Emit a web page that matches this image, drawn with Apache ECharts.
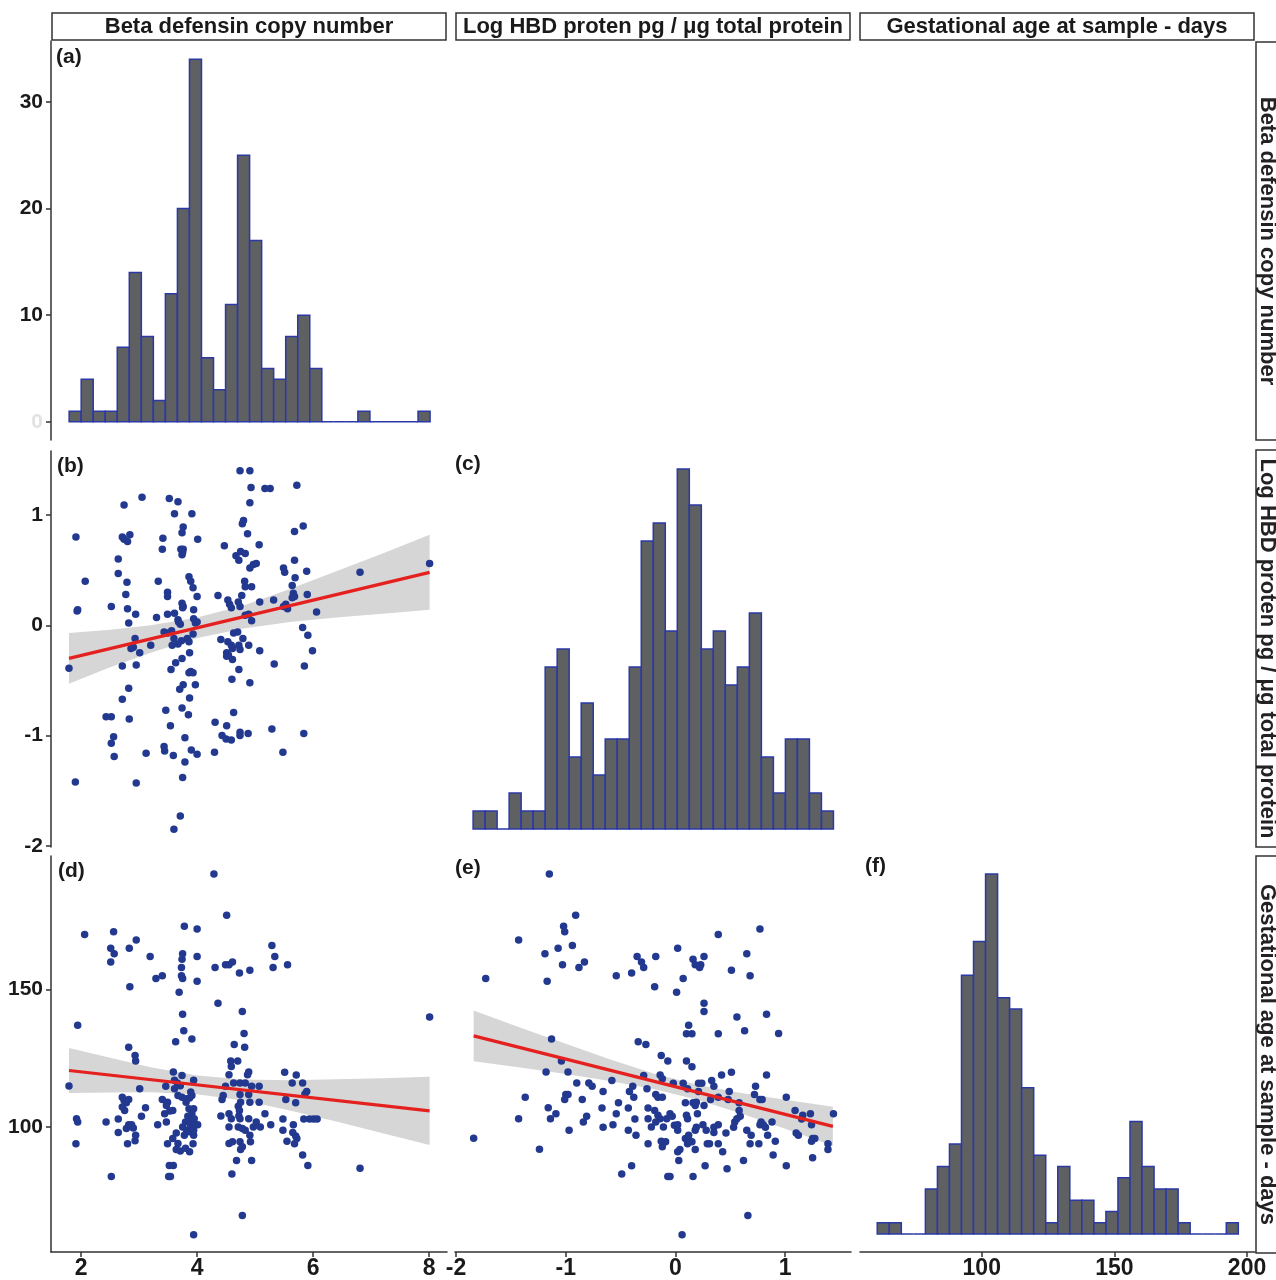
<!DOCTYPE html>
<html><head><meta charset="utf-8">
<script src="https://cdn.jsdelivr.net/npm/echarts@6/dist/echarts.min.js"></script>
<style>html,body{margin:0;padding:0;background:#fff}#c{width:1276px;height:1280px}</style>
</head><body><div id="c"></div><script>
// ---------- DATA ----------
// histogram (a): Beta defensin copy number, 30 bins
const histA_start = 1.793, histA_width = 0.2075;
const histA_counts = [1,4,1,1,7,14,8,2,12,20,34,6,3,11,25,17,5,4,8,10,5,0,0,0,1,0,0,0,0,1];
// histogram (c): Log HBD protein, 30 bins
const histC_start = -1.845, histC_width = 0.1095;
const histC_counts = [1,1,0,2,1,1,9,10,4,7,3,5,5,9,16,17,11,20,18,10,11,8,9,12,4,2,5,5,2,1];
// histogram (f): Gestational age, 30 bins
const histF_start = 60.6, histF_width = 4.537;
const histF_counts = [1,1,0,0,4,6,8,23,26,32,21,20,13,7,1,6,3,3,1,2,5,10,6,4,4,1,0,0,0,1];

// scatter (b): copy number vs log HBD
const ptsB = [[1.79,-0.39],[1.91,0.80],[2.07,0.40],[1.93,0.13],[1.94,0.14],[1.90,-1.42],
[2.74,1.09],[3.05,1.16],[2.71,0.80],[2.74,0.78],[2.80,0.76],[2.84,0.82],[2.64,0.60],[2.64,0.47],[2.79,0.39],[2.77,0.28],[2.52,0.17],[2.80,0.15],[2.94,0.10],[2.82,0.02],[2.93,-0.12],[2.90,-0.20],[2.86,-0.21],[3.01,-0.25],[3.20,-0.18],[2.71,-0.37],[2.95,-0.36],[2.82,-0.57],[2.71,-0.67],[2.43,-0.83],[2.52,-0.83],[2.83,-0.85],[2.56,-1.01],[2.52,-1.07],[2.57,-1.19],[3.12,-1.16],[2.95,-1.43],
[3.52,1.15],[3.67,1.12],[3.61,1.01],[3.91,1.01],[3.76,0.89],[3.74,0.84],[3.41,0.79],[4.01,0.78],[3.40,0.69],[3.72,0.69],[3.76,0.69],[3.74,0.64],[3.75,0.66],[3.33,0.40],[3.86,0.44],[3.89,0.40],[3.93,0.34],[3.49,0.30],[3.49,0.26],[4.00,0.26],[3.74,0.20],[3.76,0.17],[3.75,0.16],[3.30,0.07],[3.49,0.10],[3.61,0.11],[3.94,0.14],[3.67,0.05],[3.68,0.03],[3.71,0.01],[3.94,0.06],[3.97,0.02],[4.00,0.03],[3.43,-0.06],[3.49,-0.07],[3.56,-0.05],[3.60,-0.12],[3.57,-0.18],[3.73,-0.14],[3.83,-0.12],[3.86,-0.15],[3.93,-0.08],[3.67,-0.17],[3.87,-0.25],[3.74,-0.30],[3.63,-0.34],[3.55,-0.40],[3.86,-0.43],[3.93,-0.43],[3.89,-0.42],[3.97,-0.54],[3.76,-0.54],[3.70,-0.58],[3.87,-0.66],[3.74,-0.75],[3.46,-0.77],[3.85,-0.81],[3.54,-0.91],[3.79,-1.02],[3.43,-1.10],[3.44,-1.14],[3.59,-1.18],[3.90,-1.13],[4.00,-1.17],[3.79,-1.24],[3.75,-1.38],[3.71,-1.73],[3.60,-1.85],
[4.74,1.40],[4.91,1.40],[4.93,1.25],[4.91,1.11],[4.80,0.95],[4.78,0.92],[4.87,0.83],[4.47,0.72],[5.07,0.73],[4.67,0.63],[4.72,0.59],[4.75,0.67],[4.83,0.65],[4.91,0.52],[4.97,0.55],[5.02,0.56],[4.82,0.40],[4.83,0.35],[4.94,0.35],[4.36,0.27],[4.77,0.27],[4.53,0.23],[4.56,0.19],[4.59,0.16],[4.71,0.21],[4.74,0.17],[5.08,0.21],[4.83,0.09],[4.89,0.10],[4.94,0.04],[4.41,-0.13],[4.63,-0.07],[4.70,-0.06],[4.79,-0.12],[4.53,-0.15],[4.59,-0.18],[4.61,-0.21],[4.72,-0.18],[4.74,-0.22],[4.51,-0.25],[4.54,-0.27],[4.61,-0.31],[4.51,-0.28],[4.89,-0.18],[5.08,-0.23],[4.72,-0.40],[4.60,-0.49],[4.91,-0.52],[4.63,-0.79],[4.31,-0.88],[4.51,-0.91],[4.43,-1.00],[4.50,-1.03],[4.59,-1.04],[4.74,-0.97],[4.74,-1.00],[4.88,-0.98],[4.30,-1.15],
[5.17,1.24],[5.26,1.24],[5.72,1.27],[5.83,0.90],[5.68,0.85],[5.68,0.59],[5.49,0.52],[5.51,0.48],[5.89,0.49],[5.64,0.36],[5.69,0.43],[5.66,0.29],[5.68,0.26],[5.64,0.25],[5.90,0.28],[5.32,0.23],[5.53,0.19],[5.56,0.15],[5.49,0.17],[6.06,0.12],[5.82,-0.02],[5.91,-0.09],[5.99,-0.23],[5.33,-0.35],[5.85,-0.37],[5.29,-0.94],[5.84,-0.98],[5.48,-1.15],
[6.81,0.48],[8.01,0.56]];

// scatter (d): copy number vs gestational age
const ptsD = [[1.79,114.9],[1.92,103.0],[1.94,101.8],[1.91,93.9],[1.94,137],[2.06,170],
[2.56,171],[2.51,165],[2.57,163],[2.51,160],[2.83,165],[2.95,168],[2.84,151],[3.19,162],[3.29,154],[3.40,155],
[2.82,129],[2.93,126],[2.94,124],[3.01,113.9],[2.71,110.8],[2.74,109.6],[2.82,110],[2.78,108.8],[2.71,107.2],[2.75,106],[3.11,107],[3.04,103.9],[2.64,102.9],[2.43,101.8],[2.82,100.8],[2.87,100.8],[2.78,99.4],[2.90,99.6],[2.64,98],[2.94,97],[2.93,95],[2.80,93.9],[2.52,82],
[3.78,173],[4.00,172],[3.75,163],[3.74,161],[3.73,158],[3.73,155],[3.75,154],[4.00,162],[4.00,153],[3.69,149],[3.75,141],[3.77,135],[3.63,131],[3.91,132],[3.59,120],[3.74,118.7],[3.71,115],[3.61,117],[3.66,116],[3.46,114.8],[3.61,113.9],[3.94,117],[3.40,110],[3.49,109],[3.47,107.8],[3.53,105.8],[3.67,111.4],[3.74,110.8],[3.81,110.2],[3.87,110.5],[3.89,112.7],[3.91,111.4],[3.81,109],[3.44,104.8],[3.47,101.8],[3.32,100.8],[3.58,106],[3.86,106.6],[3.94,106.6],[3.91,104.8],[3.84,103.9],[3.80,101.8],[3.88,102.4],[3.95,103],[3.75,100],[3.82,98.8],[3.89,100.2],[3.97,100.8],[4.01,100.8],[3.64,97.8],[3.58,95.8],[3.78,97],[3.87,98.2],[3.94,97],[3.94,98.8],[3.49,93.9],[3.67,94],[3.64,91.8],[3.71,91.2],[3.80,92.2],[3.87,91],[3.93,93.9],[3.52,86],[3.59,86],[3.51,82],[3.54,82],[3.94,60.8],
[4.29,192],[4.51,177],[4.31,158],[4.49,159],[4.55,159],[4.61,160],[4.73,156],[4.91,157],[4.36,145],[4.78,142],[4.81,134],[4.64,130],[4.82,129],[4.58,124],[4.70,124],[4.59,122],[4.55,119],[4.89,120],[4.87,119],[4.49,114.8],[4.43,110],[4.45,111.4],[4.63,116],[4.74,116],[4.83,116],[4.74,111.8],[4.75,109],[4.71,107.5],[4.73,106],[4.72,104],[4.74,103],[4.89,111.8],[4.91,109],[4.94,114.8],[5.07,114.8],[5.07,109],[4.41,104],[4.55,104.8],[4.59,103],[4.55,100],[4.71,100],[4.78,99.4],[4.83,98.8],[4.89,103],[4.97,100],[5.02,101.8],[5.09,100],[5.17,104.8],[5.27,100.8],[4.55,94],[4.61,94.6],[4.74,94.6],[4.78,92.8],[4.75,91.8],[4.91,97],[4.92,94.6],[4.68,87.8],[4.94,87.8],[4.60,82.9],[4.78,67.8],
[5.29,166],[5.34,162],[5.31,158],[5.56,159],[5.51,119.9],[5.71,118.9],[5.64,116],[5.82,116],[5.53,110],[5.89,112.9],[5.86,112],[5.70,108.8],[5.48,102.9],[5.48,98.8],[5.55,94.8],[5.65,98],[5.70,96.7],[5.72,95.8],[5.68,93.9],[5.66,100.8],[5.84,102.9],[5.94,102.9],[6.01,102.9],[6.07,102.9],[5.82,89.8],[5.91,86],
[6.81,85],[8.01,140]];

// scatter (e): log HBD vs gestational age
const ptsE = [[-1.15,192],[-0.91,177],[-1.02,173],[-1.01,171],[-1.43,168],[-1.19,163],[-1.07,165],[-0.94,166],[-0.83,160],[-0.88,158],[-1.03,159],[-1.73,154],[-1.17,153],[-0.54,155],[-0.40,156],[-0.35,162],[-0.31,160],[-0.29,158],[-0.18,162],[0.02,165],[-0.19,151],[0.01,149],[0.07,154],[0.16,161],[0.18,159],[0.22,158],[0.23,159],[0.26,162],[0.39,170],[0.77,172],[0.65,163],[0.51,157],[0.68,155],[0.26,145],[0.26,142],[0.12,137],[0.56,140],[0.63,135],[0.83,141],[0.94,134],
[-1.84,95.9],[-1.24,91.9],[-1.13,132],[-1.04,124],[-1.18,120],[-0.98,120],[-0.90,116],[-0.79,116],[-0.76,114.8],[-1.37,110.8],[-1.43,103],[-1.16,107],[-1.14,103],[-1.09,104.8],[-1.00,111.8],[-0.98,111.8],[-1.01,110],[-0.97,98.8],[-0.85,110],[-0.81,103.9],[-0.84,101.8],[-0.66,112.9],[-0.67,106.9],[-0.66,99.9],[-0.58,116.9],[-0.54,104.8],[-0.57,100.8],[-0.52,108.8],[-0.43,98.8],[-0.49,82.9],[-0.40,85.9],[-0.43,106.9],[-0.42,112.9],[-0.39,114.8],[-0.38,110.8],[-0.37,102.9],[-0.36,97],[-0.34,131],[-0.27,130],[-0.29,118.7],[-0.26,113.9],[-0.25,106.9],[-0.25,103],[-0.22,100],[-0.25,93.9],[-0.18,111.8],[-0.16,110.8],[-0.19,106],[-0.16,104.2],[-0.14,103],[-0.18,101.8],[-0.13,126],[-0.07,124],[-0.14,118.9],[-0.12,117.5],[-0.12,110.8],[-0.13,94.8],[-0.12,92.8],[-0.09,94.6],[-0.11,100],[-0.08,103],[-0.05,104.8],[-0.03,103.9],[-0.01,100.6],[0.02,100.8],[0.02,98.8],[-0.02,115.9],[-0.07,82],[-0.05,82],[0.02,91],[0.04,91.8],[0.03,87.8],[0.06,60.8],[0.07,115.9],[0.10,133.9],[0.15,133.9],[0.10,124],[0.15,121.9],[0.11,113.9],[0.09,108.8],[0.10,104.2],[0.11,103],[0.16,108.8],[0.19,109],[0.18,107.8],[0.09,95.8],[0.12,97],[0.13,95],[0.11,93.9],[0.15,94.6],[0.18,98.8],[0.19,99.9],[0.16,82],[0.18,91.8],[0.20,104.8],[0.21,115.9],[0.24,115.9],[0.21,112.9],[0.26,107.8],[0.25,100.8],[0.28,98.8],[0.27,85.9],[0.29,93.9],[0.31,93.9],[0.33,116.9],[0.35,114.8],[0.32,110],[0.39,133.9],[0.42,118.9],[0.39,110.8],[0.39,100.8],[0.35,99.9],[0.35,98],[0.39,93.9],[0.43,91],[0.46,97.8],[0.47,84.8],[0.49,112.9],[0.51,119.9],[0.48,110],[0.54,101.8],[0.56,103],[0.59,103.9],[0.58,106],[0.53,99.9],[0.58,108.8],[0.65,98.8],[0.62,87.8],[0.66,67.8],[0.69,97],[0.68,93.9],[0.72,111.8],[0.73,114.8],[0.76,93.9],[0.77,110],[0.79,110],[0.78,101.8],[0.80,100.8],[0.77,100.8],[0.82,99.9],[0.83,118.9],[0.84,97],[0.88,101.8],[0.91,94.8],[0.89,89.8],[1.01,110.8],[1.01,85.9],[1.09,106],[1.15,102.9],[1.16,104.2],[1.10,97.8],[1.12,97],[1.23,104.8],[1.24,100.8],[1.25,95.8],[1.24,94.8],[1.27,95.8],[1.25,88.8],[1.39,93.9],[1.39,91.8],[1.44,104.8]];

// regression fits and confidence bands
const fitB = [[1.79,-0.30],[8.01,0.48]];
const bandB_x = [1.79,2.5,3.2,4.0,4.8,5.6,6.4,7.2,8.01];
const bandB_lo = [-0.53,-0.38,-0.25,-0.115,-0.03,0.03,0.07,0.105,0.14];
const bandB_hi = [-0.07,-0.04,0.00,0.07,0.18,0.33,0.49,0.65,0.82];
const fitD = [[1.79,120.5],[8.01,105.8]];
const bandD_x = [1.79,2.5,3.2,4.0,4.8,5.6,6.4,7.2,8.01];
const bandD_lo = [112.3,112.5,112.6,111.9,109.6,106.0,102.0,97.7,93.4];
const bandD_hi = [128.7,125.1,121.7,118.7,117.2,117.0,117.3,117.7,118.2];
const fitE = [[-1.84,133.1],[1.435,100.2]];
const bandE_x = [-1.84,-1.4,-1.0,-0.6,-0.2,0.2,0.6,1.0,1.435];
const bandE_lo = [123.9,121.5,119.2,116.65,113.8,109.9,104.9,99.3,93.1];
const bandE_hi = [142.3,135.9,130.2,124.55,119.4,115.3,112.3,109.9,107.3];

// tick labels
const ticksA_y = [0,10,20,30];
const ticksB_y = [-2,-1,0,1];
const ticksD_y = [100,150];
const ticksD_x = [2,4,6,8];
const ticksE_x = [-2,-1,0,1];
const ticksF_x = [100,150,200];

const varNames = ['Beta defensin copy number','Log HBD proten pg / \u03bcg total protein','Gestational age at sample - days'];
const rightNames = ['Beta defensin copy number','Log HBD proten pg / \u03bcg total protein','Gestational age at sample - days'];
const panelTags = ['(a)','(b)','(c)','(d)','(e)','(f)'];

// ---------- CHART ----------
const FONT = '"Liberation Sans", Arial, Helvetica, sans-serif';
const AX = '#333333', TXT = '#1a1a1a';
const PT = '#22398f', HFILL = '#5f6062', HSTROKE = '#2a39a6', RED = '#e5211f';

const grids = [
  {left:51, top:41, width:396, height:399},
  {left:51, top:451, width:396, height:396},
  {left:455, top:451, width:396, height:396},
  {left:51, top:856, width:396, height:398},
  {left:455, top:856, width:396, height:398},
  {left:860, top:856, width:395, height:398}
];

function mkAxis(gi, min, max, ticks, isY, colorFn) {
  const shown = !!ticks;
  return {
    type:'value', gridIndex:gi, min:min, max:max,
    splitLine:{show:false},
    axisLine:{show:shown, onZero:false, lineStyle:{color:AX, width:1.5}},
    axisTick:{show:shown, length:5, lineStyle:{color:AX, width:1.5}, customValues: ticks || undefined},
    axisLabel:{show:shown, customValues: ticks || undefined, fontSize: isY ? 21 : 23, fontWeight:'bold', fontFamily:FONT,
      color: colorFn || TXT, margin: isY ? 8 : 5}
  };
}

const xAxes = [
  mkAxis(0, 1.48, 8.31, null, false),
  mkAxis(1, 1.48, 8.31, null, false),
  mkAxis(2, -2.01, 1.60, null, false),
  mkAxis(3, 1.48, 8.31, ticksD_x, false),
  mkAxis(4, -2.01, 1.60, ticksE_x, false),
  mkAxis(5, 54.1, 203, ticksF_x, false)
];
const yAxes = [
  mkAxis(0, -1.7, 35.7, ticksA_y, true, function (v) { return Number(v) === 0 ? '#e2e2e2' : TXT; }),
  mkAxis(1, -2.01, 1.58, ticksB_y, true),
  mkAxis(2, -1, 21, null, true),
  mkAxis(3, 54.5, 198.5, ticksD_y, true),
  mkAxis(4, 54.5, 198.5, null, true),
  mkAxis(5, -1.6, 33.6, null, true)
];

function histSeries(ai, start, width, counts) {
  return {
    type:'custom', xAxisIndex:ai, yAxisIndex:ai, z:2,
    data: counts.map(function (c, i) { return [start + i * width, start + (i + 1) * width, c]; }),
    encode:{x:[0,1], y:2},
    renderItem: function (params, api) {
      const p0 = api.coord([api.value(0), 0]);
      const p1 = api.coord([api.value(1), api.value(2)]);
      return {type:'rect', shape:{x:p0[0], y:p1[1], width:p1[0]-p0[0], height:p0[1]-p1[1]},
        style:{fill:HFILL, stroke:HSTROKE, lineWidth:1.5}};
    }
  };
}
function scatterSeries(ai, pts) {
  return {type:'scatter', xAxisIndex:ai, yAxisIndex:ai, data:pts, symbolSize:7.5,
    itemStyle:{color:PT, opacity:1}, z:3, silent:true};
}
function bandSeries(ai, xs, lo, hi) {
  return {
    type:'custom', xAxisIndex:ai, yAxisIndex:ai, z:2, silent:true,
    data: xs.map(function (x, i) { return [x, lo[i], hi[i]]; }),
    encode:{x:0, y:[1,2]},
    renderItem: function (params, api) {
      if (params.dataIndex !== 0) return null;
      const pts = [];
      for (let i = 0; i < xs.length; i++) pts.push(api.coord([xs[i], hi[i]]));
      for (let i = xs.length - 1; i >= 0; i--) pts.push(api.coord([xs[i], lo[i]]));
      return {type:'polygon', shape:{points:pts}, style:{fill:'#d6d6d6'}};
    }
  };
}
function fitSeries(ai, pts) {
  return {type:'line', xAxisIndex:ai, yAxisIndex:ai, data:pts, showSymbol:false, symbol:'none', z:4, silent:true,
    lineStyle:{color:RED, width:3.2}};
}

const series = [
  histSeries(0, histA_start, histA_width, histA_counts),
  bandSeries(1, bandB_x, bandB_lo, bandB_hi), scatterSeries(1, ptsB), fitSeries(1, fitB),
  histSeries(2, histC_start, histC_width, histC_counts),
  bandSeries(3, bandD_x, bandD_lo, bandD_hi), scatterSeries(3, ptsD), fitSeries(3, fitD),
  bandSeries(4, bandE_x, bandE_lo, bandE_hi), scatterSeries(4, ptsE), fitSeries(4, fitE),
  histSeries(5, histF_start, histF_width, histF_counts)
];

// strips and panel tags
const graphic = [];
const topBoxes = [[52,394],[456,394],[860,394]];
topBoxes.forEach(function (b, i) {
  graphic.push({type:'rect', shape:{x:b[0], y:13, width:b[1], height:27}, style:{fill:'#fff', stroke:AX, lineWidth:1.5}, z:10});
  graphic.push({type:'text', x:b[0] + b[1] / 2, y:27, z:11,
    style:{text:varNames[i], font:'bold 22px ' + FONT, fill:TXT, align:'center', verticalAlign:'middle', textAlign:'center', textVerticalAlign:'middle'}});
});
const rightBoxes = [[42,398],[450,397],[856,397]];
rightBoxes.forEach(function (b, i) {
  graphic.push({type:'rect', shape:{x:1256, y:b[0], width:40, height:b[1]}, style:{fill:'#fff', stroke:AX, lineWidth:1.5}, z:10});
  graphic.push({type:'text', x:1267, y:b[0] + b[1] / 2, rotation:-Math.PI / 2, z:11,
    style:{text:rightNames[i], font:'bold 22px ' + FONT, fill:'#222', align:'center', verticalAlign:'middle', textAlign:'center', textVerticalAlign:'middle'}});
});
const tagPos = [[56,57],[57,466],[455,464],[58,871],[455,868],[865,866]];
tagPos.forEach(function (p, i) {
  graphic.push({type:'text', x:p[0], y:p[1], z:11,
    style:{text:panelTags[i], font:'bold 21px ' + FONT, fill:TXT, align:'left', verticalAlign:'middle', textAlign:'left', textVerticalAlign:'middle'}});
});

const chart = echarts.init(document.getElementById('c'), null, {renderer:'canvas'});
chart.setOption({
  backgroundColor:'#ffffff',
  animation:false,
  grid:grids,
  xAxis:xAxes,
  yAxis:yAxes,
  series:series,
  graphic:graphic
});
</script></body></html>
